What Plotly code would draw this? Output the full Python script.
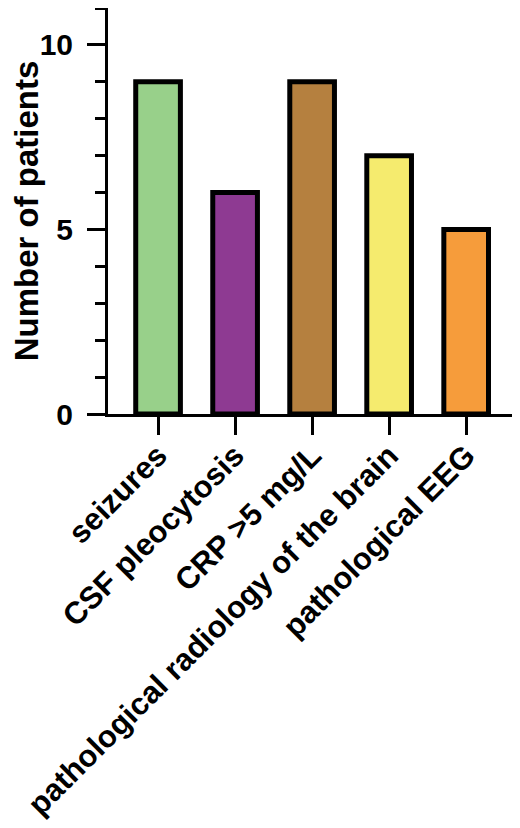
import plotly.graph_objects as go

# values
categories = ["seizures", "CSF pleocytosis", "CRP >5 mg/L",
              "pathological radiology of the brain", "pathological EEG"]
patients = [9, 6, 9, 7, 5]
bar_colors = ["#98D08A", "#8E3A92", "#B5803F", "#F5EB6E", "#F69C3B"]
y_title = "Number of patients"

font_family = "Liberation Sans, Arial, sans-serif"

fig = go.Figure()
fig.add_trace(go.Bar(
    x=categories,
    y=patients,
    width=0.58,
    marker=dict(color=bar_colors, line=dict(color="black", width=5)),
))

# the page adds an 8px body margin, so the figure is sized to fit the window
fig.update_layout(
    width=512, height=820,
    margin=dict(l=100, r=3, t=0, b=414),
    plot_bgcolor="white",
    paper_bgcolor="white",
    showlegend=False,
    font=dict(family=font_family, color="black"),
)

fig.update_xaxes(
    range=[-0.65, 4.66],
    automargin=False,
    showline=True, linecolor="black", linewidth=3,
    ticks="outside", ticklen=18, tickwidth=3, tickcolor="black",
    tickangle=-45,
    ticklabelstandoff=-10,
    tickfont=dict(size=31, family=font_family, weight="bold", color="black"),
    showgrid=False,
)

fig.update_yaxes(
    range=[0, 11],
    automargin=False,
    dtick=5, tick0=0,
    showline=True, linecolor="black", linewidth=3,
    ticks="outside", ticklen=18, tickwidth=3, tickcolor="black",
    ticklabelstandoff=8,
    tickfont=dict(size=30, family=font_family, weight="bold", color="black"),
    minor=dict(dtick=1, ticks="outside", ticklen=10, tickwidth=3, tickcolor="black"),
    showgrid=False, zeroline=False,
    title=dict(text=y_title, standoff=30,
               font=dict(size=33, family=font_family, weight="bold", color="black")),
)

fig.write_html("out.html")
